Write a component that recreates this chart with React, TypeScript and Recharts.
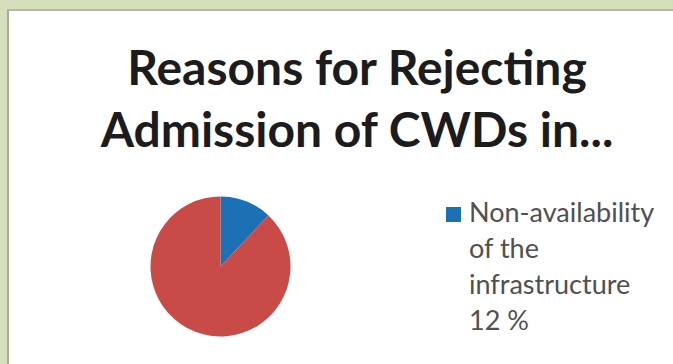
import { PieChart, Pie, Cell, Legend } from "recharts";

const categories = ["Non-availability of the infrastructure", "Other reasons"];
const shares = [12, 88];
const sliceColors = ["#1b71b3", "#c94b48"];
const titleLines = ["Reasons for Rejecting", "Admission of CWDs in..."];

const data = categories.map((name, i) => ({ name, value: shares[i] }));

const FONT = "Lato, 'Open Sans', sans-serif";

function LegendBox(props: any) {
  const { payload } = props;
  if (!payload) return null;
  // only the first entry is visible in the cropped original
  return (
    <div style={{ fontFamily: FONT }}>
      {payload.slice(0, 1).map((entry: any) => (
        <div key={entry.value} style={{ display: "flex", alignItems: "flex-start" }}>
          <span
            style={{
              display: "inline-block",
              width: 15,
              height: 15,
              marginTop: 13,
              marginRight: 8,
              background: entry.color,
              flex: "none",
            }}
          />
          <span
            style={{
              width: 196,
              fontSize: 27,
              lineHeight: "36px",
              color: "#505050",
            }}
          >
            {entry.value} {entry.payload.value}{"\u00a0"}%
          </span>
        </div>
      ))}
    </div>
  );
}

export default function App() {
  return (
    <div
      style={{
        position: "absolute",
        left: 0,
        top: 0,
        width: 673,
        height: 364,
        overflow: "hidden",
        background: "#d5dfbb",
      }}
    >
      <div
        style={{
          position: "absolute",
          left: 7,
          top: 9,
          width: 670,
          height: 370,
          background: "#ffffff",
          borderLeft: "2px solid #a9ad9d",
          borderTop: "2px solid #b4b8a8",
          boxSizing: "border-box",
        }}
      />
      {titleLines.map((line, i) => (
        <div
          key={line}
          style={{
            position: "absolute",
            left: 0,
            top: 38 + i * 62,
            width: 714,
            textAlign: "center",
            fontFamily: FONT,
            fontWeight: 700,
            fontSize: 48,
            lineHeight: "58px",
            color: "#1c1c1c",
            whiteSpace: "nowrap",
          }}
        >
          {line}
        </div>
      ))}
      <div style={{ position: "absolute", left: 0, top: 0 }}>
        <PieChart width={673} height={364} margin={{ top: 0, right: 0, bottom: 0, left: 0 }}>
          <Pie
            data={data}
            dataKey="value"
            nameKey="name"
            cx={220.5}
            cy={266.5}
            outerRadius={70}
            startAngle={90}
            endAngle={-270}
            stroke="none"
            isAnimationActive={false}
          >
            {data.map((d, i) => (
              <Cell key={d.name} fill={sliceColors[i]} />
            ))}
          </Pie>
          <Legend
            content={<LegendBox />}
            layout="vertical"
            wrapperStyle={{ position: "absolute", left: 446, top: 194, width: 230 }}
          />
        </PieChart>
      </div>
    </div>
  );
}
